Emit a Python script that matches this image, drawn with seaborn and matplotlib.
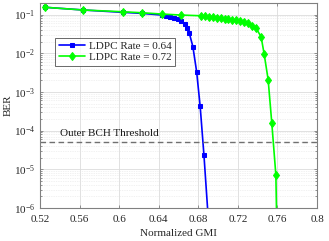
import numpy as np
import pandas as pd
import matplotlib
matplotlib.use("Agg")
import matplotlib.pyplot as plt
import seaborn as sns
from matplotlib.ticker import LogLocator, FixedLocator, NullFormatter

# ---- data ----
gmi_064 = [0.525, 0.5637, 0.6035, 0.6235, 0.6430, 0.6470, 0.6510, 0.6550, 0.6590,
           0.6630, 0.6665, 0.6690, 0.6708, 0.6745, 0.6783, 0.6819, 0.6857, 0.692]
ber_064 = [0.154, 0.131, 0.114, 0.107, 0.097, 0.093, 0.088, 0.083, 0.077,
           0.068, 0.056, 0.045, 0.0337, 0.0149, 0.00335, 4.2e-4, 2.34e-5, 1e-7]

gmi_072 = [0.525, 0.5637, 0.6035, 0.6235, 0.6429, 0.6625, 0.6825, 0.6865, 0.6905,
           0.6945, 0.6985, 0.7025, 0.7065, 0.7105, 0.7145, 0.7185, 0.7225, 0.7265,
           0.7305, 0.7345, 0.7385, 0.7435, 0.7466, 0.7506, 0.7543, 0.7584, 0.7597]
ber_072 = [0.154, 0.131, 0.118, 0.111, 0.103, 0.097, 0.093, 0.090, 0.087,
           0.085, 0.082, 0.080, 0.078, 0.076, 0.074, 0.072, 0.069, 0.064,
           0.059, 0.052, 0.044, 0.0265, 0.0094, 0.00207, 1.55e-4, 7.1e-6, 1e-7]

labels = ["LDPC Rate = 0.64", "LDPC Rate = 0.72"]
threshold = 5e-5
threshold_label = "Outer BCH Threshold"
xticks = [0.52, 0.56, 0.6, 0.64, 0.68, 0.72, 0.76, 0.8]
xtick_labels = ["0.52", "0.56", "0.6", "0.64", "0.68", "0.72", "0.76", "0.8"]

df = pd.concat([
    pd.DataFrame({"GMI": gmi_064, "BER": ber_064, "code": labels[0]}),
    pd.DataFrame({"GMI": gmi_072, "BER": ber_072, "code": labels[1]}),
])

sns.set_style("ticks")
plt.rcParams["font.family"] = ["Liberation Serif", "DejaVu Serif"]
plt.rcParams["mathtext.fontset"] = "stix"

fig = plt.figure(figsize=(3.29, 2.41), dpi=100)
ax = fig.add_axes([0.1216, 0.137, 0.842, 0.851])

edge = "#262626"
fs = 8
for lab, col, mk, ms in [(labels[0], "#0000ff", "s", 3.5), (labels[1], "#00ff00", "d", 4.5)]:
    sub = df[df["code"] == lab]
    sns.lineplot(data=sub, x="GMI", y="BER", ax=ax, color=col, marker=mk,
                 markersize=ms, markeredgecolor=col, linewidth=1.2, label=lab,
                 sort=False, estimator=None)

ax.set_yscale("log")
ax.set_xlim(0.52, 0.8)
ax.set_ylim(1e-6, 0.2)

ax.axhline(threshold, color="#707070", linestyle=(0, (4, 2.5)), linewidth=1.0)
ax.text(0.5405, threshold * 1.3, threshold_label, fontsize=fs, color="#1a1a1a",
        va="bottom", ha="left")

ax.xaxis.set_major_locator(FixedLocator(xticks))
ax.set_xticklabels(xtick_labels)
ax.yaxis.set_major_locator(LogLocator(base=10, numticks=10))
ax.yaxis.set_minor_locator(LogLocator(base=10, subs=np.arange(2, 10), numticks=20))
ax.yaxis.set_minor_formatter(NullFormatter())

ax.grid(True, which="major", color="#dcdcdc", linewidth=0.6)
ax.grid(True, which="minor", axis="y", color="#e4e4e4", linewidth=0.5, linestyle=(0, (1, 1.5)))
ax.set_axisbelow(True)

for s in ax.spines.values():
    s.set_color("#808080")
    s.set_linewidth(0.8)
ax.tick_params(axis="both", which="both", direction="in", colors="#808080",
               labelcolor=edge, labelsize=fs, length=2.5, width=0.6)
ax.tick_params(axis="x", which="major", pad=5)
ax.tick_params(axis="y", which="minor", length=1.5)
ax.tick_params(top=True, right=True, which="both")

ax.set_xlabel("Normalized GMI", fontsize=fs, color=edge, labelpad=4)
ax.set_ylabel("BER", fontsize=fs, color=edge, labelpad=1)

leg = ax.legend(loc="upper left", bbox_to_anchor=(0.055, 0.83), fontsize=fs,
                frameon=True, fancybox=False, edgecolor="#262626",
                handlelength=2.4, borderpad=0.3, labelspacing=0.15,
                handletextpad=0.3, borderaxespad=0)
leg.get_frame().set_linewidth(0.6)

fig.savefig("out.png", dpi=100)
